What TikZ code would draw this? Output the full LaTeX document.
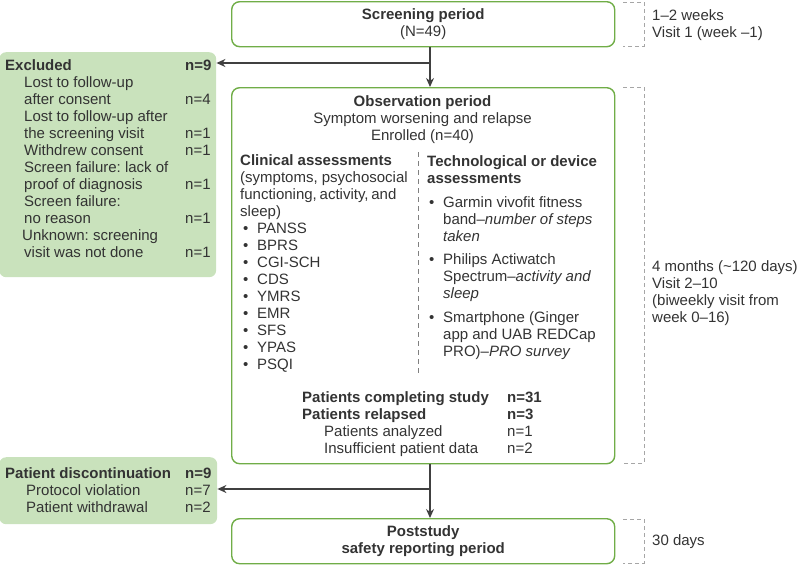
\documentclass[tikz,border=0pt]{standalone}
\usepackage{fontspec}
\setmainfont{Liberation Sans}
\setsansfont{Liberation Sans}
\usetikzlibrary{arrows.meta, positioning, calc}
\definecolor{periodgreen}{HTML}{70AD47}
\definecolor{outgreen}{HTML}{C9E2BC}
\definecolor{inkgray}{HTML}{333333}
\definecolor{arrowgray}{HTML}{404040}
\definecolor{spangray}{HTML}{A6A6A6}
\newcommand{\bul}{\makebox[14pt][l]{\textbullet}}
\newlength{\colw}
\frenchspacing
\tikzset{
	>={Stealth[length=9pt, width=8pt]},
	every node/.style={inner sep=0pt, text=inkgray, font=\fontsize{15}{17}\selectfont},
	period/.style={draw=periodgreen, line width=1.4pt, rounded corners=8pt, align=center, minimum width=383pt, anchor=north west},
	outbox/.style={fill=outgreen, rounded corners=7pt, anchor=north west},
	flow/.style={->, draw=arrowgray, line width=1.3pt},
	span/.style={draw=spangray, line width=0.9pt, dash pattern=on 4pt off 3pt},
	divider/.style={draw=gray, line width=0.9pt, dash pattern=on 5pt off 4pt},
	textblock/.style={anchor=base west, align=left},
}

\begin{document}
\begin{tikzpicture}[x=1pt, y=-1pt]
	\useasboundingbox (0,0) rectangle (799,565);
	
	% study periods
	\node[period, minimum height=45pt] (screen) at (231,1) {\textbf{Screening period}\\(N=49)};
	\node[period, minimum height=376pt] (obs) at (231,87) {};
	\node[period, minimum height=45pt] (post) at (231,518) {\textbf{Poststudy}\\\textbf{safety reporting period}};
	
	% drop-outs
	\node[outbox, minimum width=217pt, minimum height=225pt] (excl) at (-1,52) {};
	\node[outbox, minimum width=218pt, minimum height=67pt] (disc) at (-1,457) {};
	
	\node[anchor=base west] (excltext) at (5,70) {\begin{tabular}[t]{@{}p{180pt}@{}l@{}}
			\textbf{Excluded} & \textbf{n=9}\\
			\hspace*{19pt}Lost to follow-up & \\
			\hspace*{19pt}after consent & n=4\\
			\hspace*{19pt}Lost to follow-up after & \\
			\hspace*{19pt}the screening visit & n=1\\
			\hspace*{19pt}Withdrew consent & n=1\\
			\hspace*{19pt}Screen failure: lack of & \\
			\hspace*{19pt}proof of diagnosis & n=1\\
			\hspace*{19pt}Screen failure: & \\
			\hspace*{19pt}no reason & n=1\\
			\hspace*{17pt}Unknown: screening & \\
			\hspace*{19pt}visit was not done & n=1
		\end{tabular}};
	\node[anchor=base west] (disctext) at (5,478) {\begin{tabular}[t]{@{}p{180pt}@{}l@{}}
			\textbf{Patient discontinuation} & \textbf{n=9}\\
			\hspace*{21pt}Protocol violation & n=7\\
			\hspace*{21pt}Patient withdrawal & n=2
		\end{tabular}};
	
	% observation period content (base = last line)
	\node[anchor=base, align=center] (obshead) at (422.5,140) {\textbf{Observation period}\\Symptom worsening and relapse\\Enrolled (n=40)};
	\node[textblock] (clinical) at (240,369) {\settowidth{\colw}{(symptoms, psychosocial}\textbf{Clinical assessments}\\
		(symptoms, psychosocial\\
		\makebox[\colw][s]{functioning, activity, and}\\
		sleep)\\
		\hspace*{3pt}\bul PANSS\\
		\hspace*{3pt}\bul BPRS\\
		\hspace*{3pt}\bul CGI-SCH\\
		\hspace*{3pt}\bul CDS\\
		\hspace*{3pt}\bul YMRS\\
		\hspace*{3pt}\bul EMR\\
		\hspace*{3pt}\bul SFS\\
		\hspace*{3pt}\bul YPAS\\
		\hspace*{3pt}\bul PSQI};
	\node[textblock] (device) at (427,356) {\textbf{Technological or device}\\
		\textbf{assessments}\\[7pt]
		\hspace*{2pt}\bul Garmin vivofit fitness\\
		\hspace*{16pt}band–\textit{number of steps}\\
		\hspace*{16pt}\textit{taken}\\[6pt]
		\hspace*{2pt}\bul Philips Actiwatch\\
		\hspace*{16pt}Spectrum–\textit{activity and}\\
		\hspace*{16pt}\textit{sleep}\\[7pt]
		\hspace*{2pt}\bul Smartphone (Ginger\\
		\hspace*{16pt}app and UAB REDCap\\
		\hspace*{16pt}PRO)–\textit{PRO survey}};
	\draw[divider] (418,152) -- (418,373);
	\node[anchor=base west] (stats) at (302,402) {\begin{tabular}[t]{@{}p{205pt}@{}l@{}}
			\textbf{Patients completing study} & \textbf{n=31}\\
			\textbf{Patients relapsed} & \textbf{n=3}\\
			\hspace*{22pt}Patients analyzed & n=1\\
			\hspace*{22pt}Insufficient patient data & n=2
		\end{tabular}};
	
	% flow
	\coordinate (split1) at (430,63);
	\coordinate (split2) at (430,489);
	\draw[flow] (screen.south -| split1) -- (obs.north -| split1);
	\draw[flow] (split1) -- (excl.east |- split1);
	\draw[flow] (obs.south -| split2) -- (post.north -| split2);
	\draw[flow] (split2) -- (disc.east |- split2);
	
	% durations
	\draw[span] (623,2) -- (644,2) -- (644,46) -- (623,46);
	\draw[span] (623,87) -- (644,87) -- (644,463) -- (623,463);
	\draw[span] (623,519) -- (644,519) -- (644,563) -- (623,563);
	\node[textblock] (screenspan) at (652,37) {1–2 weeks\\Visit 1 (week –1)};
	\node[textblock] (obsspan) at (652,322) {4 months (\textasciitilde120 days)\\Visit 2–10\\(biweekly visit from\\week 0–16)};
	\node[textblock] (postspan) at (652,545) {30 days};
	
\end{tikzpicture}
\end{document}
